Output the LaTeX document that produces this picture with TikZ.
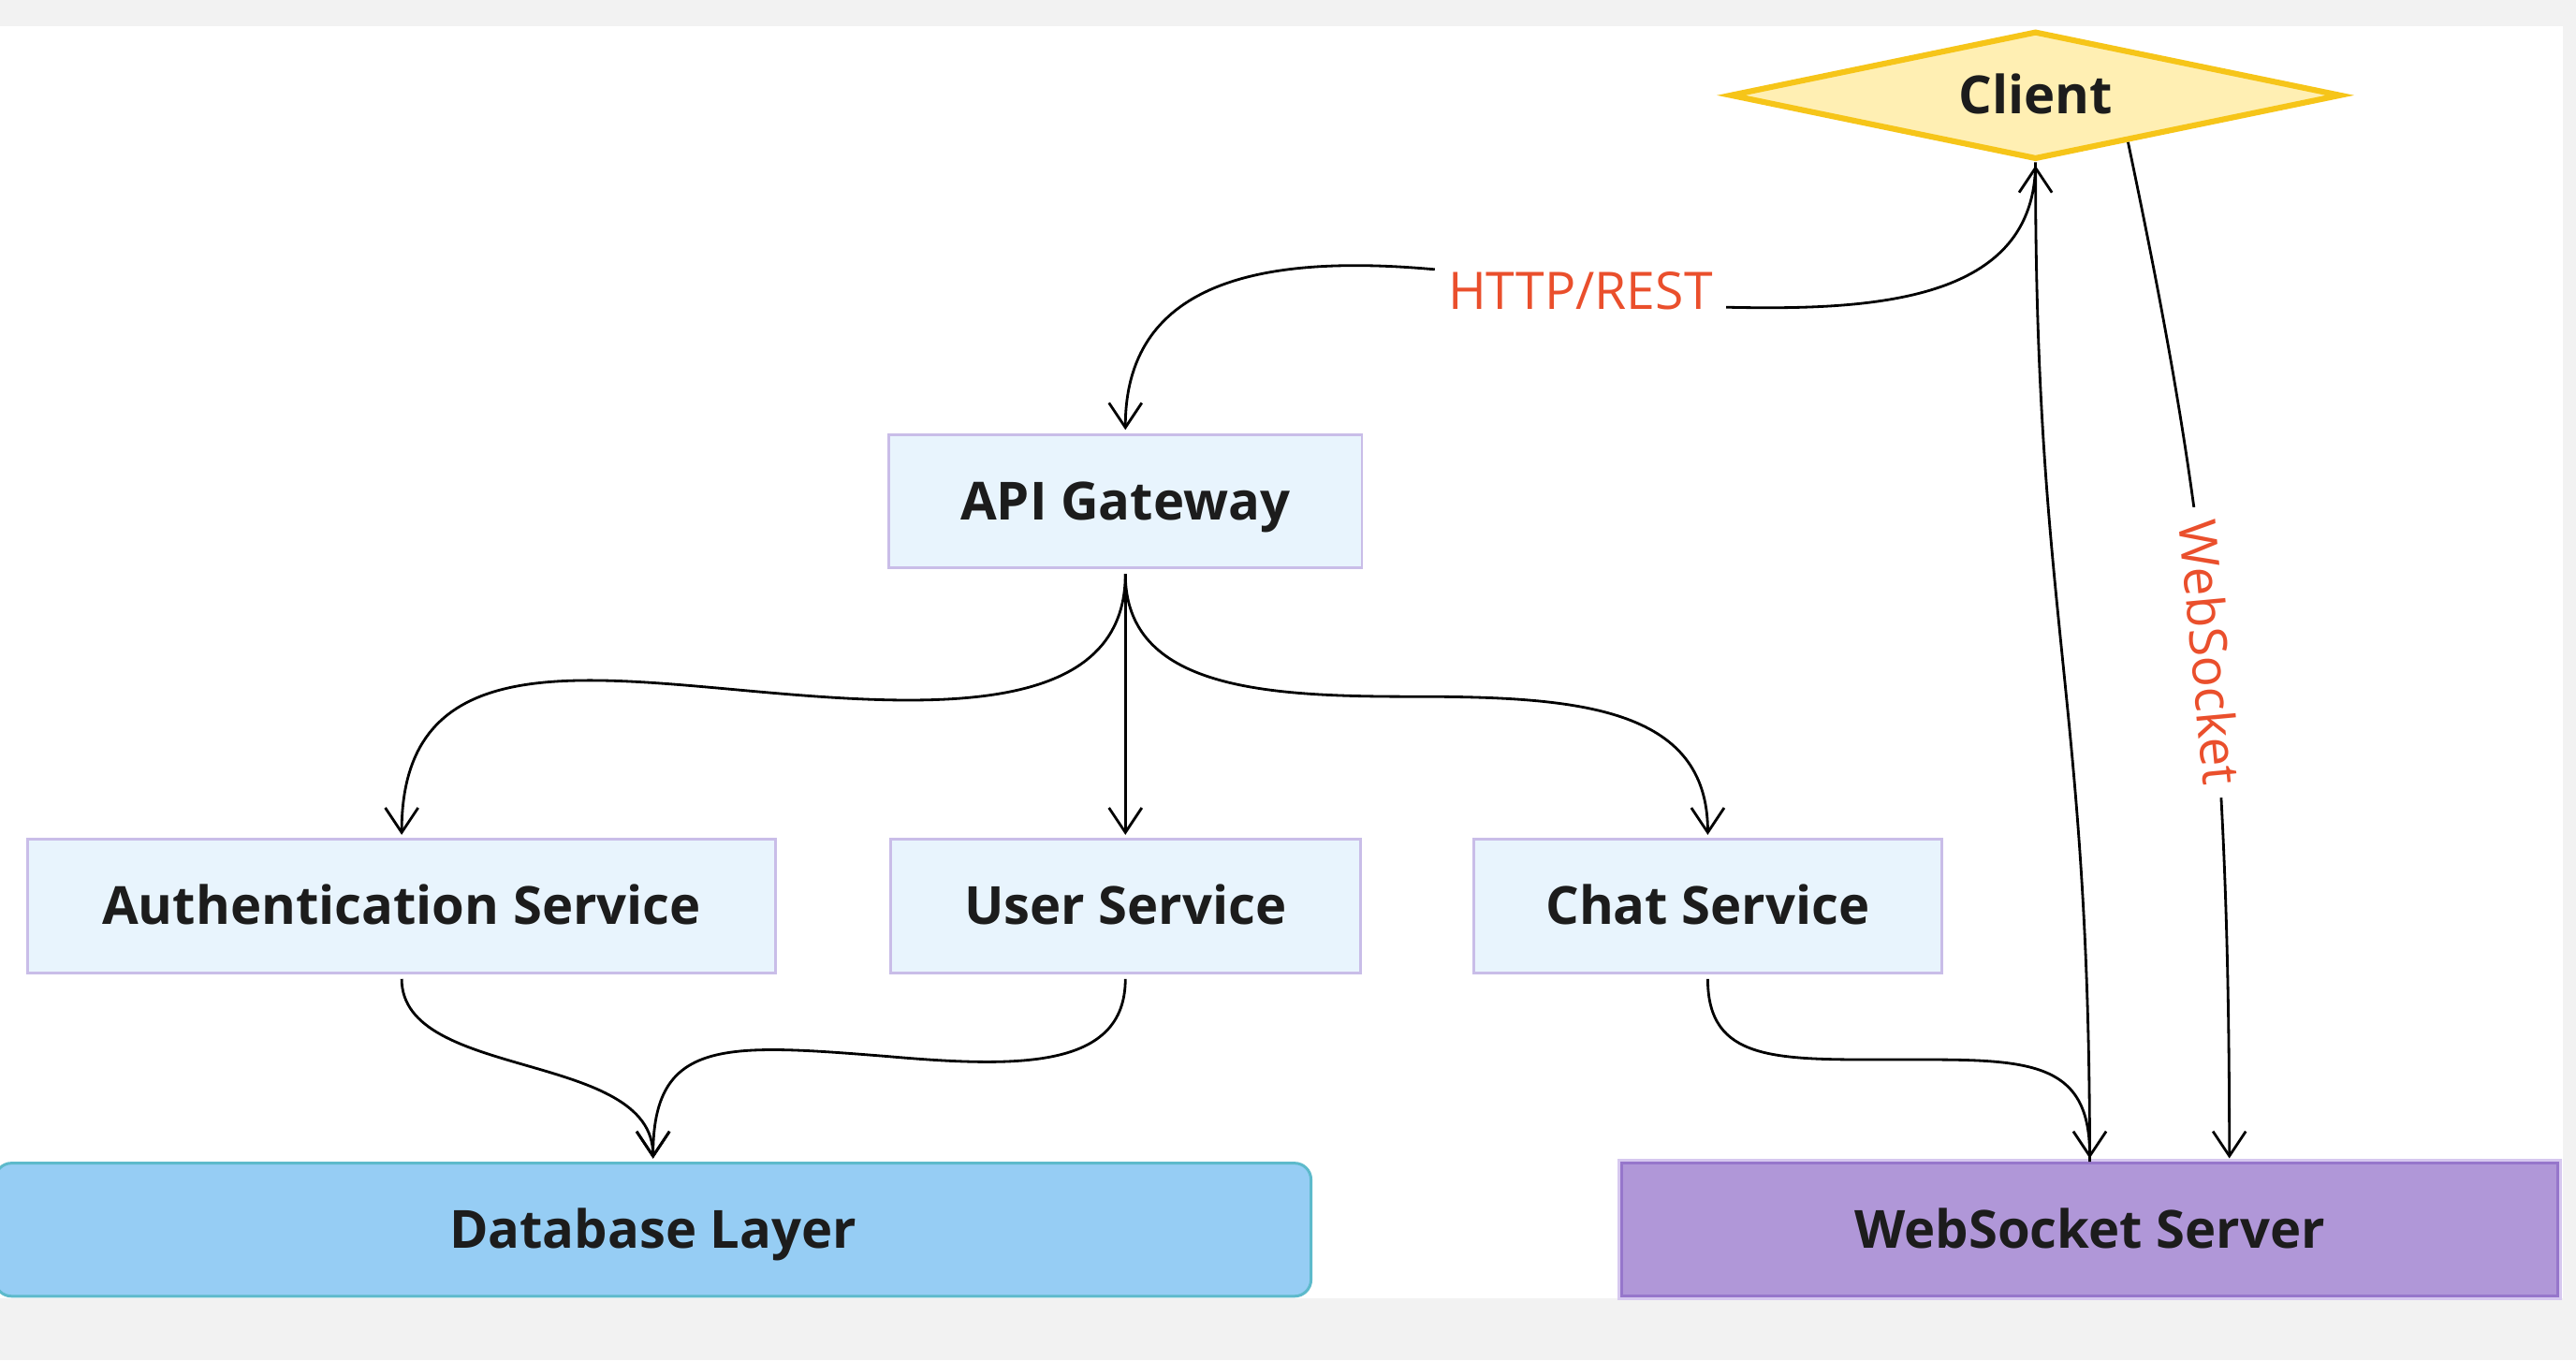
\documentclass[tikz,border=0pt]{standalone}
\usepackage{fontspec}
\setmainfont{Open Sans}
\usetikzlibrary{shapes.geometric,arrows.meta,calc}
\definecolor{bggrey}{HTML}{F2F2F2}
\definecolor{svcfill}{HTML}{E8F4FD}
\definecolor{svcline}{HTML}{C9BDE8}
\definecolor{clientfill}{HTML}{FFEFB3}
\definecolor{clientline}{HTML}{F6C519}
\definecolor{dbfill}{HTML}{96CDF4}
\definecolor{dbline}{HTML}{5DBACB}
\definecolor{wsfill}{HTML}{B097D8}
\definecolor{wsline}{HTML}{9676CB}
\definecolor{wshalo}{HTML}{D6C8EF}
\definecolor{lblred}{HTML}{EA4F2C}
\definecolor{inkdark}{HTML}{1C1C1C}

\begin{document}
\begin{tikzpicture}[x=1pt,y=-1pt,
					boxtext/.style={inner sep=0pt, text=inkdark, text height=22.5pt, text depth=0pt, font=\fontsize{32}{36}\selectfont\bfseries},
					svcbox/.style={boxtext, rectangle, draw=svcline, line width=1.7pt, fill=svcfill, minimum height=81pt},
					clientbox/.style={boxtext, diamond, draw=clientline, line width=3.5pt, fill=clientfill, aspect=4.7, minimum width=372pt, minimum height=78pt},
					dbbox/.style={boxtext, rectangle, rounded corners=10pt, draw=dbline, line width=1.7pt, fill=dbfill, minimum height=81pt},
					wsbox/.style={boxtext, rectangle, draw=wsline, line width=1.8pt, fill=wsfill, preaction={draw=wshalo, line width=5pt}, minimum height=81pt},
					flow/.style={line width=1.6pt, black},
					arrowtip/.style={-{Straight Barb[length=15pt,width=20pt]}, shorten >=2pt},
					edgelabel/.style={fill=white, text=lblred, inner xsep=8pt, inner ysep=3pt, font=\fontsize{31.5}{36}\selectfont},
					]
					\useasboundingbox (0,0) rectangle (1568,828);
					\fill[bggrey] (0,0) rectangle (1568,828);
					\fill[white] (-5,16) rectangle (1560,790);

					%Nodes
					\node[clientbox]                       (client) at (1239,58)     {Client};
					\node[svcbox, minimum width=288pt]     (api)    at (685,305)     {API Gateway};
					\node[svcbox, minimum width=455pt]     (auth)   at (244.5,551.5) {Authentication Service};
					\node[svcbox, minimum width=286pt]     (user)   at (685,551.5)   {User Service};
					\node[svcbox, minimum width=285pt]     (chat)   at (1039.5,551.5) {Chat Service};
					\node[dbbox, minimum width=801pt]      (db)     at (397.5,748.5) {Database Layer};
					\node[wsbox, minimum width=570pt]      (ws)     at (1272,748.5)  {WebSocket Server};

					%Lines
					\node[edgelabel] (http) at (962,177) {HTTP/REST};
					\draw[flow] (client.south) .. controls +(0,85) and +(90,2) .. ([yshift=-10pt]http.east);
					\draw[flow,arrowtip] ([yshift=13pt]http.west) .. controls +(-110,-10) and +(0,-90) .. (api.north);

					\draw[flow,arrowtip] ([yshift=-3pt]api.south) .. controls +(0,90) and +(110,10) .. (450,420) .. controls +(-110,-10) and +(0,-110) .. (auth.north);
					\draw[flow,arrowtip] ([yshift=-3pt]api.south) -- (user.north);
					\draw[flow,arrowtip] ([yshift=-3pt]api.south) .. controls +(0,70) and +(-90,0) .. (860,424) .. controls +(100,0) and +(0,-80) .. (chat.north);

					\draw[flow,arrowtip] ([yshift=-3pt]auth.south) .. controls +(0,62) and +(0,-68) .. (db.north);
					\draw[flow,arrowtip] ([yshift=-3pt]user.south) .. controls +(0,55) and +(80,7) .. (540,643) .. controls +(-100,-8) and +(0,-75) .. (db.north);

					\draw[flow,arrowtip] ([yshift=-3pt]chat.south) .. controls +(0,50) and +(-70,0) .. (1150,645) .. controls +(80,0) and +(0,-65) .. (ws.north);

					\draw[flow,arrowtip] (ws.north) .. controls +(0,-285) and +(0,280) .. (client.south);
					\draw[flow,arrowtip] ($(client.south)!0.3!(client.east)$) .. controls +(44,210) and +(0,-285) .. ([xshift=85pt]ws.north) node[edgelabel, sloped, pos=0.55] {WebSocket};
				\end{tikzpicture}
\end{document}
